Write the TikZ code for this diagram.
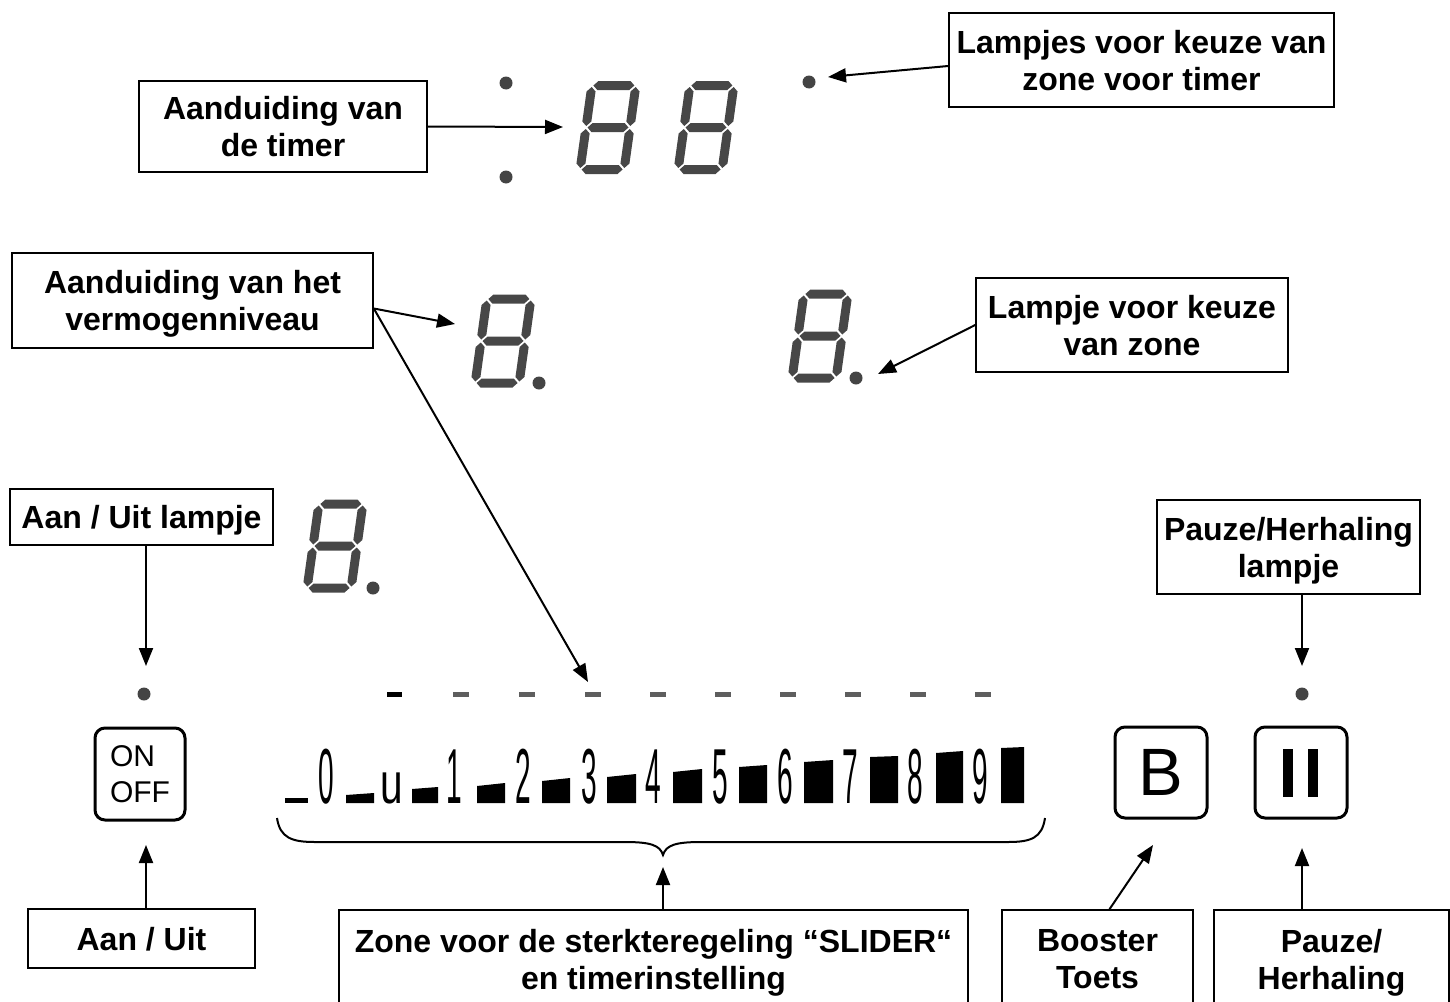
\documentclass[tikz,border=0pt]{standalone}
\usepackage{fontspec}
\setmainfont{Liberation Sans}
\usetikzlibrary{arrows.meta,calc}

\definecolor{segc}{HTML}{474747}
\definecolor{dotc}{HTML}{444444}
\definecolor{dashc}{HTML}{5E5E5E}

% hexagonal segments of a seven-segment digit (local units, y downwards)
\newcommand\segH[3]{(#1,#3) -- ({#1+4.5},{#3-4.5}) -- ({#2-4.5},{#3-4.5}) -- (#2,#3) -- ({#2-4.5},{#3+4.5}) -- ({#1+4.5},{#3+4.5}) -- cycle}
\newcommand\segV[3]{(#1,#2) -- ({#1+4.5},{#2+4.5}) -- ({#1+4.5},{#3-4.5}) -- (#1,#3) -- ({#1-4.5},{#3-4.5}) -- ({#1-4.5},{#2+4.5}) -- cycle}
\newcommand\slimdigit[1]{\scalebox{0.36}[1]{#1}}

\tikzset{
  lbl/.style={draw, line width=0.8pt, align=center, inner sep=0pt, text depth=0pt,
    font=\bfseries\fontsize{16}{18.5}\selectfont},
  ptr/.style={line width=1pt, -{Triangle[length=9pt,width=7pt]}},
  lamp/.style={circle, fill=dotc, minimum size=6.5pt, inner sep=0pt},
  keybox/.style={draw, line width=1.5pt, rounded corners=5pt, inner sep=0pt},
  sldig/.style={anchor=base, inner sep=0pt, font=\fontsize{39}{39}\selectfont},
  segdigit/.pic={
    \begin{scope}[xslant=0.14]
      \fill[segc] \segH{-20.5}{20.5}{-42};
      \fill[segc] \segH{-20.5}{20.5}{0};
      \fill[segc] \segH{-20.5}{20.5}{42};
      \fill[segc] \segV{-22}{-40.5}{-1.5};
      \fill[segc] \segV{22}{-40.5}{-1.5};
      \fill[segc] \segV{-22}{1.5}{40.5};
      \fill[segc] \segV{22}{1.5}{40.5};
    \end{scope}
  }
}

\begin{document}
\begin{tikzpicture}[x=0.5pt,y=-0.5pt]
\useasboundingbox (0,0) rectangle (1450,1001);

% ---- timer display ----
\node[lamp] (tcol1) at (506,83) {};
\node[lamp] (tcol2) at (506,177) {};
\pic at (608,127.5) {segdigit};
\pic at (706,127.5) {segdigit};
\node[lamp] (zsel) at (809,82) {};

% ---- power level displays ----
\pic at (503,341) {segdigit};
\node[lamp] (pdot1) at (539,383) {};
\pic at (820,336) {segdigit};
\node[lamp] (pdot2) at (856,378) {};
\pic at (335,546) {segdigit};
\node[lamp] (pdot3) at (373,588) {};

% ---- lamps above keys ----
\node[lamp] (ondot) at (144,694) {};
\node[lamp] (pzdot) at (1302,694) {};

% ---- slider position marks ----
\fill[black] (387,692) rectangle (402,697);
\foreach \x in {461,527,593,658,723,788,853,918,983}
  \fill[dashc] (\x-8,692) rectangle (\x+8,697);

% ---- slider scale: growing bars and digits ----
\fill[black] (285,798) rectangle (308,803);
\foreach \a/\b/\l/\r in {346/374/795/793, 412/438/789/787, 477/505/786/783,
    542/570/781/778, 607/636/777/774, 673/702/772/769, 739/767/767/765,
    804/833/762/760, 870/898/757/756, 936/963/753/751, 1001/1024/748/747}
  \fill[black] (\a,803) -- (\a,\l) -- (\b,\r) -- (\b,803) -- cycle;
\node[sldig] (s0) at (326,803) {\slimdigit{0}};
\node[sldig, font=\fontsize{29}{29}\selectfont] (su) at (392,803) {\scalebox{0.7}[1]{u}};
\node[sldig] (s1) at (454,803) {\slimdigit{1}};
\node[sldig] (s2) at (523,803) {\slimdigit{2}};
\node[sldig] (s3) at (589,803) {\slimdigit{3}};
\node[sldig] (s4) at (653,803) {\slimdigit{4}};
\node[sldig] (s5) at (720,803) {\slimdigit{5}};
\node[sldig] (s6) at (785,803) {\slimdigit{6}};
\node[sldig] (s7) at (850,803) {\slimdigit{7}};
\node[sldig] (s8) at (915,803) {\slimdigit{8}};
\node[sldig] (s9) at (980,803) {\slimdigit{9}};

% brace under the slider
\draw[line width=1pt] (277,818) .. controls (280,838) and (292,842) .. (315,842)
  -- (625,842) .. controls (650,842) and (660,845) .. (663,855)
  .. controls (666,845) and (676,842) .. (701,842)
  -- (1008,842) .. controls (1031,842) and (1042,838) .. (1045,818);

% ---- keys ----
\node[keybox, minimum width=45pt, minimum height=46pt, align=left,
  font=\fontsize{15}{18}\selectfont] (onbtn) at (140,774) {ON\\OFF};
\node[keybox, minimum width=46pt, minimum height=45.5pt,
  font=\fontsize{33.5}{33.5}\selectfont] (bbtn) at (1161,772.5) {B};
\node[keybox, minimum width=46pt, minimum height=45.5pt] (pbtn) at (1301,772.5) {};
\fill[black] (1283,749) rectangle (1293,797);
\fill[black] (1308,749) rectangle (1318,797);

% ---- labels ----
\node[lbl, minimum width=144pt, minimum height=45.5pt] (ltimer) at (283,126.5) {Aanduiding van\\de timer};
\node[lbl, minimum width=192.5pt, minimum height=47pt] (lzonet) at (1141.5,60) {Lampjes voor keuze van\\zone voor timer};
\node[lbl, minimum width=180.5pt, minimum height=47.5pt] (lpower) at (192.5,300.5) {Aanduiding van het\\vermogenniveau};
\node[lbl, minimum width=156pt, minimum height=47pt] (lzone) at (1132,325) {Lampje voor keuze\\van zone};
\node[lbl, minimum width=131.5pt, minimum height=28pt] (lonlamp) at (141.5,517) {Aan / Uit lampje};
\node[lbl, minimum width=131.5pt, minimum height=47pt] (lpzlamp) at (1288.5,547) {Pauze/Herhaling\\lampje};
\node[lbl, minimum width=113.5pt, minimum height=29.5pt] (lon) at (141.5,938.5) {Aan / Uit};
\node[lbl, minimum width=314.5pt, minimum height=49pt] (lslider) at (653.5,959) {Zone voor de sterkteregeling “SLIDER“\\en timerinstelling};
\node[lbl, minimum width=95.5pt, minimum height=49pt] (lboost) at (1097.5,959) {Booster\\Toets};
\node[lbl, minimum width=117.5pt, minimum height=49pt] (lpause) at (1331.5,959) {Pauze/\\Herhaling};

% ---- pointer ends ----
\coordinate (timertip) at (563,127);
\coordinate (zseltip) at (828,77);
\coordinate (powtip) at (455,324);
\coordinate (slidetip) at (588,682);
\coordinate (zonetip) at (878,374);
\coordinate (onlamptip) at (146,666);
\coordinate (pzlamptip) at (1302,666);
\coordinate (onkeytip) at (146,845);
\coordinate (slidkeytip) at (663,867);
\coordinate (boosttip) at (1153,845);
\coordinate (pzkeytip) at (1302,848);

% ---- pointers ----
\draw[ptr] (ltimer.east) -- (timertip);
\draw[ptr] ([yshift=-3pt]lzonet.west) -- (zseltip);
\draw[ptr] ([yshift=-4pt]lpower.east) -- (powtip);
\draw[ptr] ([yshift=-4pt]lpower.east) -- (slidetip);
\draw[ptr] (lzone.west) -- (zonetip);
\draw[ptr] (lonlamp.south -| onlamptip) -- (onlamptip);
\draw[ptr] (lpzlamp.south -| pzlamptip) -- (pzlamptip);
\draw[ptr] (lon.north -| onkeytip) -- (onkeytip);
\draw[ptr] (lslider.north -| slidkeytip) -- (slidkeytip);
\draw[ptr] ([xshift=6pt]lboost.north) -- (boosttip);
\draw[ptr] (lpause.north -| pzkeytip) -- (pzkeytip);
\end{tikzpicture}
\end{document}
